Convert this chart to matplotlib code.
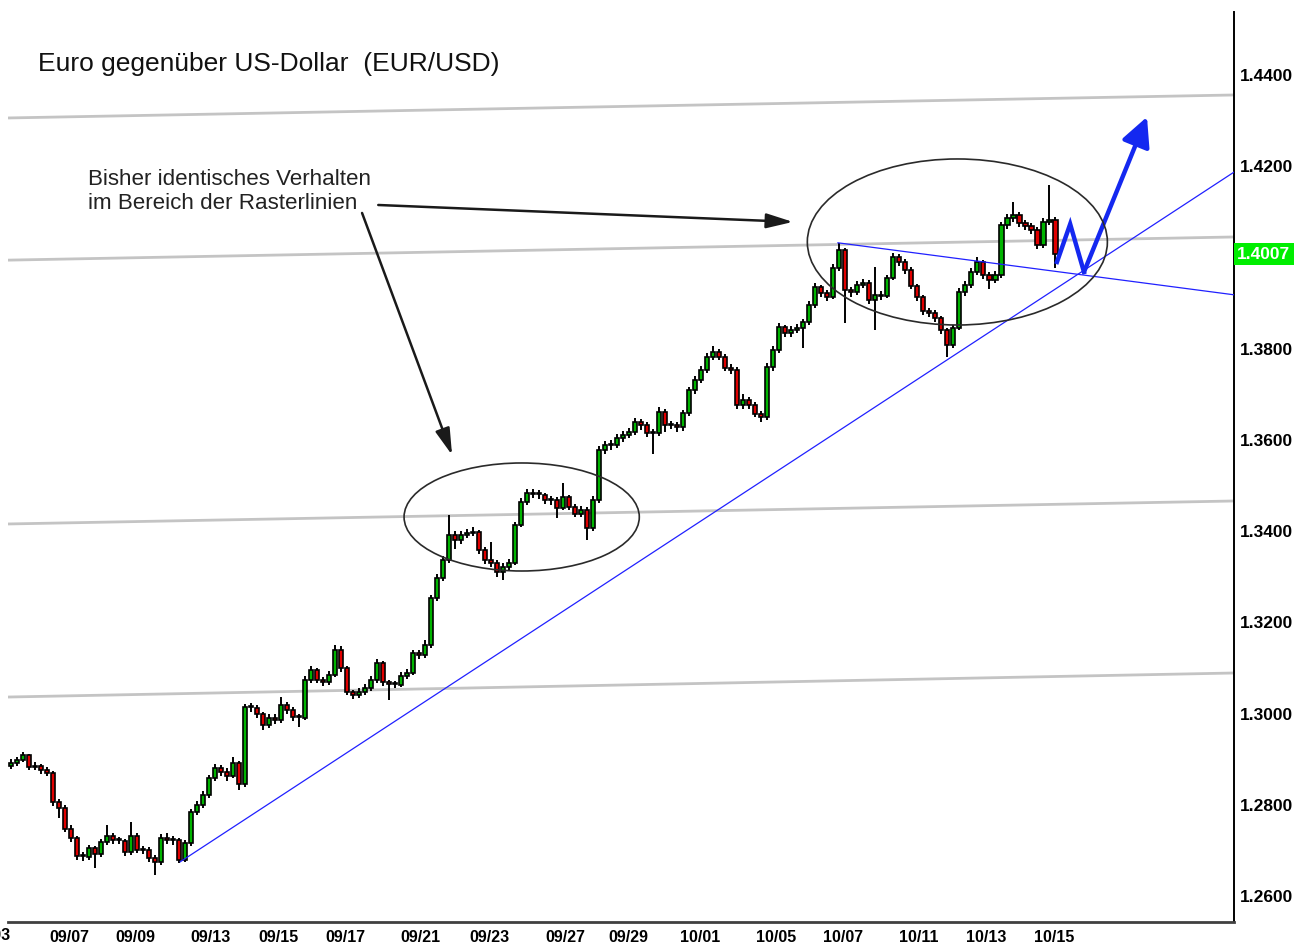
import numpy as np
import matplotlib
matplotlib.use("Agg")
import matplotlib.pyplot as plt
from matplotlib.patches import Ellipse
import matplotlib.transforms as mtrans

plt.rcParams['font.family'] = ['Liberation Sans', 'DejaVu Sans']

# EUR/USD, one candle per ~3 hours, prices in pips (1/10000)
first_open = 12885
closes = [
	12891, 12898, 12909, 12883, 12885, 12876, 12870, 12806, 12793, 12747,
	12727, 12688, 12686, 12705, 12692, 12718, 12732, 12723, 12721, 12696,
	12732, 12701, 12701, 12683, 12675, 12727, 12723, 12723, 12679, 12716,
	12784, 12799, 12821, 12859, 12881, 12872, 12863, 12892, 12846, 13014,
	13012, 12999, 12975, 12990, 12986, 13019, 13008, 12992, 12990, 13074,
	13095, 13074, 13069, 13085, 13139, 13100, 13047, 13041, 13047, 13056,
	13074, 13111, 13069, 13065, 13063, 13082, 13089, 13133, 13128, 13150,
	13253, 13297, 13337, 13391, 13380, 13391, 13396, 13398, 13359, 13337,
	13330, 13310, 13321, 13330, 13413, 13464, 13484, 13481, 13479, 13468,
	13468, 13451, 13475, 13453, 13438, 13446, 13407, 13468, 13578, 13589,
	13589, 13604, 13611, 13617, 13639, 13633, 13615, 13615, 13661, 13633,
	13633, 13628, 13659, 13709, 13731, 13753, 13782, 13793, 13782, 13758,
	13753, 13676, 13687, 13676, 13657, 13650, 13760, 13797, 13847, 13834,
	13841, 13845, 13858, 13896, 13935, 13922, 13913, 13977, 14016, 13929,
	13924, 13940, 13944, 13907, 13918, 13915, 13955, 14001, 13990, 13972,
	13937, 13913, 13882, 13878, 13867, 13841, 13808, 13845, 13924, 13940,
	13968, 13990, 13961, 13950, 13961, 14071, 14086, 14093, 14075, 14069,
	14060, 14027, 14078, 14082, 14007]
highs = [
	12900, 12905, 12916, 12912, 12893, 12890, 12882, 12873, 12812, 12800,
	12755, 12732, 12697, 12712, 12710, 12725, 12756, 12738, 12730, 12726,
	12762, 12738, 12710, 12707, 12690, 12736, 12738, 12732, 12728, 12722,
	12790, 12808, 12830, 12866, 12890, 12888, 12880, 12905, 12896, 13022,
	13024, 13018, 13004, 12998, 12998, 13036, 13026, 13014, 12998, 13082,
	13104, 13100, 13080, 13094, 13150, 13148, 13105, 13052, 13055, 13064,
	13082, 13120, 13116, 13074, 13072, 13090, 13098, 13140, 13140, 13162,
	13260, 13305, 13345, 13435, 13400, 13400, 13405, 13408, 13403, 13366,
	13376, 13336, 13330, 13338, 13420, 13472, 13492, 13492, 13490, 13484,
	13478, 13474, 13506, 13480, 13460, 13454, 13452, 13476, 13586, 13598,
	13600, 13612, 13620, 13626, 13648, 13646, 13640, 13624, 13672, 13668,
	13642, 13640, 13666, 13716, 13740, 13762, 13790, 13806, 13800, 13788,
	13766, 13760, 13700, 13694, 13684, 13664, 13768, 13806, 13856, 13852,
	13850, 13854, 13866, 13904, 13944, 13940, 13928, 13986, 14032, 14020,
	13936, 13948, 13952, 13950, 13979, 13926, 13962, 14010, 14008, 13996,
	13978, 13942, 13918, 13890, 13884, 13872, 13846, 13852, 13932, 13948,
	13976, 14000, 13994, 13968, 13970, 14078, 14096, 14121, 14100, 14082,
	14076, 14066, 14086, 14159, 14088]
lows = [
	12878, 12884, 12893, 12876, 12877, 12868, 12864, 12798, 12770, 12740,
	12718, 12680, 12676, 12680, 12662, 12686, 12712, 12715, 12713, 12688,
	12690, 12694, 12692, 12675, 12646, 12668, 12714, 12712, 12672, 12674,
	12710, 12778, 12792, 12815, 12852, 12864, 12852, 12858, 12832, 12840,
	13003, 12990, 12965, 12968, 12978, 12980, 13000, 12984, 12970, 12986,
	13066, 13066, 13060, 13062, 13080, 13092, 13040, 13032, 13034, 13040,
	13050, 13068, 13060, 13030, 13055, 13058, 13076, 13084, 13120, 13122,
	13144, 13246, 13290, 13330, 13360, 13372, 13384, 13390, 13350, 13328,
	13322, 13300, 13293, 13312, 13325, 13408, 13458, 13472, 13470, 13460,
	13458, 13429, 13446, 13446, 13430, 13430, 13380, 13400, 13462, 13570,
	13578, 13582, 13596, 13604, 13610, 13622, 13606, 13570, 13608, 13617,
	13624, 13618, 13620, 13652, 13700, 13724, 13746, 13776, 13774, 13750,
	13745, 13668, 13668, 13668, 13650, 13639, 13644, 13752, 13790, 13826,
	13826, 13834, 13801, 13852, 13890, 13914, 13904, 13908, 13970, 13856,
	13914, 13918, 13932, 13898, 13841, 13906, 13910, 13950, 13982, 13964,
	13930, 13905, 13874, 13870, 13858, 13832, 13782, 13802, 13840, 13916,
	13934, 13962, 13952, 13930, 13944, 13955, 14062, 14078, 14066, 14060,
	14052, 14018, 14020, 14072, 13976]

date_labels = ['09/07', '09/09', '09/13', '09/15', '09/17', '09/21', '09/23', '09/27',
	'09/29', '10/01', '10/05', '10/07', '10/11', '10/13', '10/15']
date_pos = [9.7, 20.8, 33.2, 44.5, 55.8, 68.3, 79.7, 92.3, 102.8, 114.8, 127.5,
	138.7, 151.2, 162.5, 173.8]
cut_label, cut_pos = '09/03', -3.35

price_ticks = [1.26, 1.28, 1.30, 1.32, 1.34, 1.36, 1.38, 1.40, 1.42, 1.44]
last_price = 1.4007

# grid ("Raster") lines: (x0, p0, x1, p1)
raster_lines = [(-0.5, 1.43057, 203.8, 1.43561), (-0.5, 1.39940, 203.8, 1.40448),
	(-0.5, 1.34156, 203.8, 1.34660), (-0.5, 1.30362, 203.8, 1.30889)]
trend_up = [(28.2, 1.2675), (203.8, 1.4187)]
trend_down = [(137.8, 1.4032), (203.8, 1.3918)]
scenario = [(174.3, 1.3990), (176.5, 1.4073), (178.8, 1.3968)]
scenario_target = (189.3, 1.4308)
ellipses = [(85.1, 1.34309, 39.2, 0.02368), (157.7, 1.40338, 50.0, 0.0364)]

title = 'Euro gegenüber US-Dollar  (EUR/USD)'
note = 'Bisher identisches Verhalten\nim Bereich der Rasterlinien'


def main():
	o = np.array([first_open] + closes[:-1]) / 10000
	c = np.array(closes) / 10000
	h = np.array(highs) / 10000
	l = np.array(lows) / 10000
	x = np.arange(len(c))

	fig = plt.figure(figsize=(13.06, 9.42), dpi=100)
	ax = fig.add_axes([8/1306, 20/942, 1226/1306, 910/942])

	for x0, p0, x1, p1 in raster_lines:
		ax.plot([x0, x1], [p0, p1], color='#c4c4c4', lw=2, zorder=1, solid_capstyle='butt')

	ax.vlines(x, l, h, color='black', lw=1.4, zorder=2)
	up = c >= o
	colors = np.where(up, '#00b400', '#e00000')
	body = np.where(np.abs(c - o) < 0.0002, 0.0002, c - o)
	ax.bar(x, body, bottom=o, width=0.78, color=colors, edgecolor='black', linewidth=1.2, zorder=3)

	ax.plot(*zip(*trend_up), color='#2020ff', lw=0.9, zorder=4)
	ax.plot(*zip(*trend_down), color='#2020ff', lw=0.9, zorder=4)

	sx, sy = zip(*scenario)
	ax.plot(sx, sy, color='#1428f0', lw=3.2, zorder=5, solid_joinstyle='miter')
	ax.annotate('', xy=scenario_target, xytext=scenario[-1],
		arrowprops=dict(arrowstyle='-|>,head_length=0.8,head_width=0.4', color='#1428f0',
			lw=3.2, mutation_scale=22, shrinkA=0, shrinkB=0), zorder=5)

	for cx, cy, w, hh in ellipses:
		ax.add_patch(Ellipse((cx, cy), w, hh, fill=False, edgecolor='#2a2a2a', lw=1.2, zorder=6))

	ax.text(12.8, 1.4194, note, fontsize=16.1, va='top', ha='left', color='#222222')
	arrow_kw = dict(arrowstyle='-|>,head_length=0.9,head_width=0.25', color='#1a1a1a',
		lw=1.8, mutation_scale=18, shrinkA=0, shrinkB=0)
	ax.annotate('', xy=(130.3, 1.40778), xytext=(61.2, 1.41149), arrowprops=arrow_kw)
	ax.annotate('', xy=(73.5, 1.35668), xytext=(58.5, 1.40974), arrowprops=arrow_kw)

	ax.set_xlim(-0.5, 203.8)
	ax.set_ylim(1.2543, 1.4538)
	ax.yaxis.tick_right()
	ax.set_yticks(price_ticks)
	# the 1.4000 label sits under the last-price box
	ax.set_yticklabels(['' if abs(v - 1.40) < 1e-9 else '%.4f' % v for v in price_ticks])
	ax.tick_params(axis='y', length=0, pad=4, labelsize=12.5)
	for t in ax.get_yticklabels():
		t.set_fontweight('bold')
	ax.set_xticks(date_pos)
	ax.set_xticklabels(date_labels, fontweight='bold')
	ax.tick_params(axis='x', length=0, pad=6, labelsize=11.5)
	ax.text(cut_pos, -6/910, cut_label, transform=ax.get_xaxis_transform(), ha='center', va='top',
		fontsize=11.5, fontweight='bold', clip_on=False)

	for s in ['left', 'top']:
		ax.spines[s].set_visible(False)
	ax.spines['right'].set_linewidth(1.4)
	ax.spines['bottom'].set_linewidth(2)
	ax.spines['bottom'].set_color('#404040')

	lt = mtrans.blended_transform_factory(ax.transAxes, ax.transData)
	ax.text(1.0025, last_price, '%.4f' % last_price, transform=lt, color='white', fontsize=12.5,
		fontweight='bold', va='center', ha='left',
		bbox=dict(boxstyle='square,pad=0.2', fc='#00ee00', ec='none'))

	fig.text(38/1306, 1 - 71/942, title, fontsize=19, va='baseline', ha='left', color='#111111')

	fig.savefig('out.png', dpi=100)


if __name__ == "__main__":
	main()
